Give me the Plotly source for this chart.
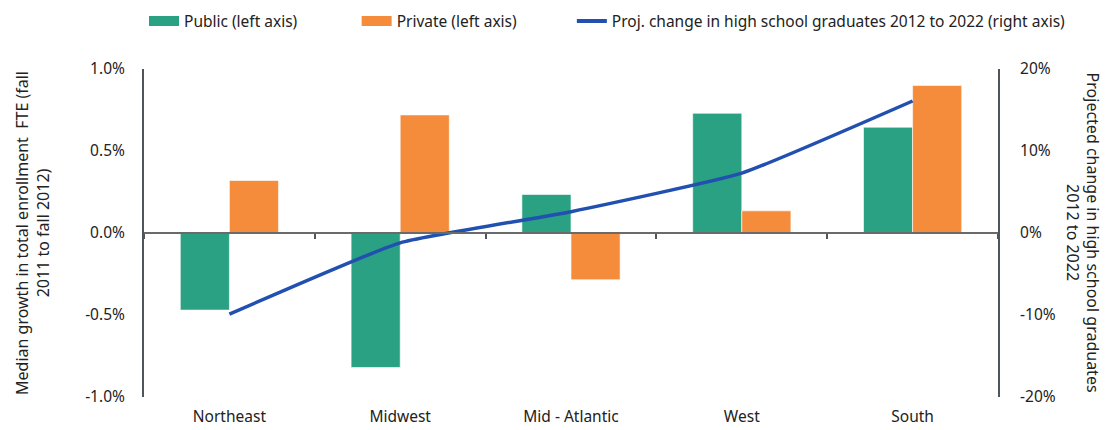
import plotly.graph_objs as go

regions = ['Northeast', 'Midwest', 'Mid - Atlantic', 'West', 'South']
public_growth = [-0.0047, -0.0082, 0.00235, 0.0073, 0.00645]
private_growth = [0.0032, 0.0072, -0.00285, 0.00135, 0.0090]
hs_grad_change = [-0.099, -0.012, 0.026, 0.073, 0.161]

left_ticks = [-0.01, -0.005, 0, 0.005, 0.01]
left_tick_labels = ['-1.0%', '-0.5%', '0.0%', '0.5%', '1.0%']
right_ticks = [-0.2, -0.1, 0, 0.1, 0.2]
right_tick_labels = ['-20%', '-10%', '0%', '10%', '20%']

GREEN = '#29A182'
ORANGE = '#F48C3C'
BLUE = '#2150B0'
AXIS = '#50555B'
FONT = 'Noto Sans'
CLEAR = 'rgba(0,0,0,0)'

fig = go.Figure()

# bars (legend entries drawn by wide proxies below, like the original swatches)
fig.add_trace(go.Bar(x=regions, y=public_growth, name='Public (left axis)', showlegend=False,
                     marker=dict(color=GREEN, line=dict(color='rgba(255,255,255,0.6)', width=1))))
fig.add_trace(go.Bar(x=regions, y=private_growth, name='Private (left axis)', showlegend=False,
                     marker=dict(color=ORANGE, line=dict(color='rgba(255,255,255,0.6)', width=1))))
fig.add_trace(go.Scatter(x=regions, y=hs_grad_change, yaxis='y2', xaxis='x3', mode='lines',
                         name='Proj. change in high school graduates 2012 to 2022 (right axis)',
                         showlegend=False,
                         line=dict(color=BLUE, width=3.5, shape='spline', smoothing=0.4)))

# legend proxies, one legend each so they sit where the original puts them
legend_items = [('Public (left axis)', GREEN, 12, 'legend', 0.0),
                ('Private (left axis)', ORANGE, 12, 'legend2', 0.249),
                ('Proj. change in high school graduates 2012 to 2022 (right axis)', BLUE, 4, 'legend3', 0.501)]
for name, color, width, leg, _ in legend_items:
    fig.add_trace(go.Scatter(x=[None], y=[None], mode='lines', name=name, legend=leg,
                             line=dict(color=color, width=width)))

legend_style = dict(orientation='h', xanchor='left', y=1.145, yanchor='middle',
                    font=dict(size=15.5), itemwidth=30, bgcolor=CLEAR)
for _, _, _, leg, xpos in legend_items:
    fig.update_layout({leg: dict(legend_style, x=xpos)})

fig.update_layout(
    width=1106, height=430,
    margin=dict(l=144, r=108, t=69, b=33, autoexpand=False),
    plot_bgcolor='white', paper_bgcolor='white',
    font=dict(family=FONT, size=15, color='#222222'),
    barmode='group', bargap=0.425, bargroupgap=0,
    showlegend=True,
    xaxis=dict(showline=False, ticks='outside', ticklen=5, tickcolor=CLEAR, automargin=False,
               showgrid=False, zeroline=False, tickfont=dict(size=15.5)),
    xaxis3=dict(overlaying='x', matches='x', anchor='free', position=0.5, automargin=False,
                showline=True, linecolor='#6A6A6A', linewidth=2,
                ticks='outside', tickson='boundaries', ticklen=5, tickcolor=AXIS, tickwidth=1.5,
                showticklabels=False, showgrid=False, zeroline=False),
    yaxis=dict(range=[-0.01, 0.01], tickvals=left_ticks, ticktext=left_tick_labels,
               showgrid=False, zeroline=False, automargin=False,
               showline=True, linecolor=AXIS, linewidth=2,
               ticks='outside', ticklen=14, tickcolor=CLEAR, tickfont=dict(size=15.5),
               title=dict(text='Median growth in total enrollment  FTE (fall<br>2011 to fall 2012)',
                          font=dict(size=16), standoff=32)),
    yaxis2=dict(range=[-0.2, 0.2], tickvals=right_ticks, ticktext=right_tick_labels,
                overlaying='y', side='right', showgrid=False, zeroline=False, automargin=False,
                showline=True, linecolor=AXIS, linewidth=2,
                ticks='outside', ticklen=17, tickcolor=CLEAR, tickfont=dict(size=15.5)),
)

fig.add_annotation(text='Projected change in high school graduates<br>2012 to 2022',
                   xref='paper', yref='paper', x=1.1, y=0.5, textangle=90,
                   showarrow=False, font=dict(size=16), xanchor='center', yanchor='middle')

fig.write_html('out.html', config={'displayModeBar': False},
               post_script="document.body.style.margin='0';")
